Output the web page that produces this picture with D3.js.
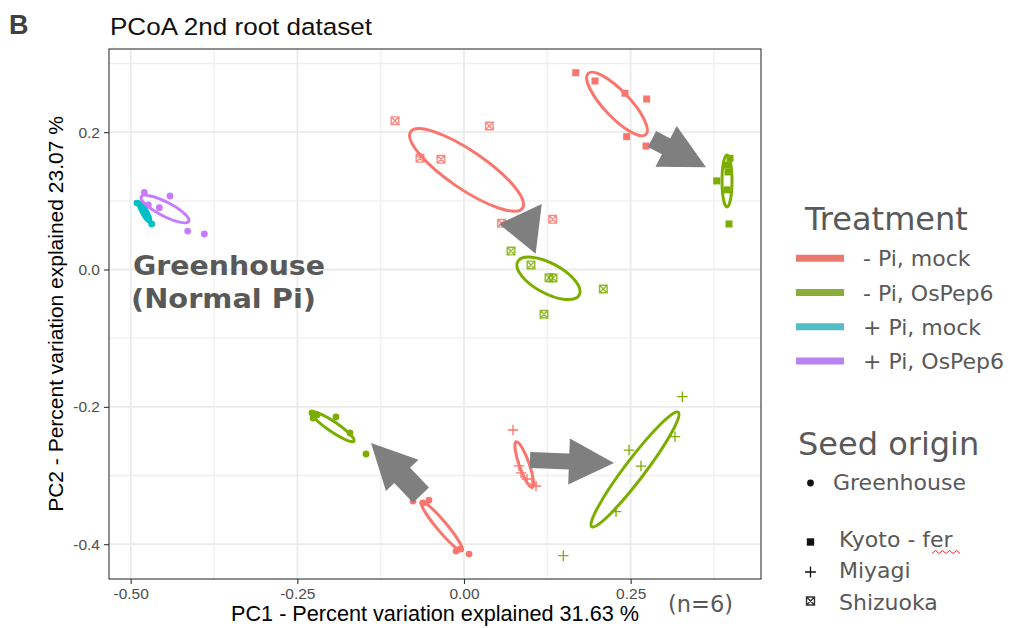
<!DOCTYPE html>
<html>
<head>
<meta charset="utf-8">
<script src="https://cdn.jsdelivr.net/npm/d3@7"></script>
<style>
  body { margin: 0; background: #fff; }
  svg { display: block; }
</style>
</head>
<body>
<svg id="chart" width="1013" height="628"></svg>
<script>
const treatments = ["- Pi, mock", "- Pi, OsPep6", "+ Pi, mock", "+ Pi, OsPep6"];
const origins = ["Greenhouse", "Kyoto - fer", "Miyagi", "Shizuoka"];
const xTicks = [-0.50, -0.25, 0.00, 0.25];
const yTicks = [0.2, 0.0, -0.2, -0.4];
const xMinor = [-0.375, -0.125, 0.125, 0.375];
const yMinor = [0.3, 0.1, -0.1, -0.3];

// sample scores (PC1, PC2), one list per seed origin
const greenhouse = [
  { t: "+ Pi, mock", pc1: -0.4905, pc2: 0.0968 },
  { t: "+ Pi, mock", pc1: -0.4845, pc2: 0.0910 },
  { t: "+ Pi, mock", pc1: -0.4800, pc2: 0.0850 },
  { t: "+ Pi, mock", pc1: -0.4770, pc2: 0.0810 },
  { t: "+ Pi, mock", pc1: -0.4740, pc2: 0.0760 },
  { t: "+ Pi, mock", pc1: -0.4685, pc2: 0.0663 },
  { t: "+ Pi, OsPep6", pc1: -0.4795, pc2: 0.1124 },
  { t: "+ Pi, OsPep6", pc1: -0.4410, pc2: 0.1070 },
  { t: "+ Pi, OsPep6", pc1: -0.4570, pc2: 0.0900 },
  { t: "+ Pi, OsPep6", pc1: -0.4735, pc2: 0.0940 },
  { t: "+ Pi, OsPep6", pc1: -0.4145, pc2: 0.0560 },
  { t: "+ Pi, OsPep6", pc1: -0.3895, pc2: 0.0517 },
  { t: "- Pi, mock", pc1: -0.0765, pc2: -0.3371 },
  { t: "- Pi, mock", pc1: -0.0615, pc2: -0.3400 },
  { t: "- Pi, mock", pc1: -0.0525, pc2: -0.3357 },
  { t: "- Pi, mock", pc1: -0.0120, pc2: -0.4100 },
  { t: "- Pi, mock", pc1: -0.0060, pc2: -0.4071 },
  { t: "- Pi, mock", pc1: 0.0075, pc2: -0.4144 },
  { t: "- Pi, OsPep6", pc1: -0.2280, pc2: -0.2090 },
  { t: "- Pi, OsPep6", pc1: -0.2265, pc2: -0.2163 },
  { t: "- Pi, OsPep6", pc1: -0.2205, pc2: -0.2119 },
  { t: "- Pi, OsPep6", pc1: -0.1920, pc2: -0.2148 },
  { t: "- Pi, OsPep6", pc1: -0.1710, pc2: -0.2381 },
  { t: "- Pi, OsPep6", pc1: -0.1470, pc2: -0.2687 }
];
const kyoto = [
  { t: "- Pi, mock", pc1: 0.1676, pc2: 0.2866 },
  { t: "- Pi, mock", pc1: 0.1965, pc2: 0.2745 },
  { t: "- Pi, mock", pc1: 0.2415, pc2: 0.2566 },
  { t: "- Pi, mock", pc1: 0.2740, pc2: 0.2483 },
  { t: "- Pi, mock", pc1: 0.2440, pc2: 0.1934 },
  { t: "- Pi, mock", pc1: 0.2730, pc2: 0.1798 },
  { t: "- Pi, OsPep6", pc1: 0.3990, pc2: 0.1620 },
  { t: "- Pi, OsPep6", pc1: 0.3790, pc2: 0.1290 },
  { t: "- Pi, OsPep6", pc1: 0.3975, pc2: 0.0663 },
  { t: "- Pi, OsPep6", pc1: 0.3945, pc2: 0.1520 },
  { t: "- Pi, OsPep6", pc1: 0.3960, pc2: 0.1420 },
  { t: "- Pi, OsPep6", pc1: 0.3945, pc2: 0.1160 }
];
const miyagi = [
  { t: "- Pi, mock", pc1: 0.0735, pc2: -0.2337 },
  { t: "- Pi, mock", pc1: 0.0825, pc2: -0.2861 },
  { t: "- Pi, mock", pc1: 0.0855, pc2: -0.2963 },
  { t: "- Pi, mock", pc1: 0.0945, pc2: -0.3051 },
  { t: "- Pi, mock", pc1: 0.1020, pc2: -0.3124 },
  { t: "- Pi, mock", pc1: 0.1080, pc2: -0.3153 },
  { t: "- Pi, OsPep6", pc1: 0.3275, pc2: -0.1852 },
  { t: "- Pi, OsPep6", pc1: 0.3165, pc2: -0.2435 },
  { t: "- Pi, OsPep6", pc1: 0.2475, pc2: -0.2629 },
  { t: "- Pi, OsPep6", pc1: 0.2655, pc2: -0.2862 },
  { t: "- Pi, OsPep6", pc1: 0.2280, pc2: -0.3527 },
  { t: "- Pi, OsPep6", pc1: 0.1490, pc2: -0.4168 }
];
const shizuoka = [
  { t: "- Pi, mock", pc1: -0.1035, pc2: 0.2167 },
  { t: "- Pi, mock", pc1: 0.0380, pc2: 0.2090 },
  { t: "- Pi, mock", pc1: -0.0660, pc2: 0.1619 },
  { t: "- Pi, mock", pc1: -0.0345, pc2: 0.1605 },
  { t: "- Pi, mock", pc1: 0.0565, pc2: 0.0673 },
  { t: "- Pi, mock", pc1: 0.1330, pc2: 0.0731 },
  { t: "- Pi, OsPep6", pc1: 0.0705, pc2: 0.0269 },
  { t: "- Pi, OsPep6", pc1: 0.1005, pc2: 0.0066 },
  { t: "- Pi, OsPep6", pc1: 0.1275, pc2: -0.0119 },
  { t: "- Pi, OsPep6", pc1: 0.1335, pc2: -0.0124 },
  { t: "- Pi, OsPep6", pc1: 0.2090, pc2: -0.0284 },
  { t: "- Pi, OsPep6", pc1: 0.1200, pc2: -0.0652 }
];

// 95% ellipses: centre, end of major axis, minor semi-axis (PC units)
const ellipses = [
  { t: "+ Pi, mock",   cx: -0.4792, cy: 0.0837,  ex: -0.4710, ey: 0.0692,  minor: 0.0045 },
  { t: "+ Pi, OsPep6", cx: -0.4485, cy: 0.0881,  ex: -0.4128, ey: 0.0702,  minor: 0.0105 },
  { t: "- Pi, mock",   cx: 0.2295,  cy: 0.2410,  ex: 0.2728,  ey: 0.1966,  minor: 0.0195 },
  { t: "- Pi, OsPep6", cx: 0.3945,  cy: 0.1289,  ex: 0.3945,  ey: 0.0910,  minor: 0.0075 },
  { t: "- Pi, mock",   cx: 0.0038,  cy: 0.1450,  ex: 0.0877,  ey: 0.0895,  minor: 0.0285 },
  { t: "- Pi, OsPep6", cx: 0.1267,  cy: -0.0128, ex: 0.1729,  ey: -0.0371, minor: 0.0225 },
  { t: "- Pi, OsPep6", cx: -0.1968, cy: -0.2289, ex: -0.1650, ey: -0.2498, minor: 0.0075 },
  { t: "- Pi, mock",   cx: -0.0334, cy: -0.3738, ex: -0.0026, ey: -0.4095, minor: 0.0075 },
  { t: "- Pi, mock",   cx: 0.0903,  cy: -0.2840, ex: 0.1024,  ey: -0.3172, minor: 0.0075 },
  { t: "- Pi, OsPep6", cx: 0.2565,  cy: -0.2912, ex: 0.3215,  ey: -0.2079, minor: 0.0150 }
];

// mock -> OsPep6 arrows (PC units)
const arrows = [
  { from: [0.282, 0.190],     to: [0.363, 0.149] },
  { from: [0.1132, 0.059],    to: [0.0525, 0.0663] },
  { from: [-0.0645, -0.3284], to: [-0.1395, -0.2527] },
  { from: [0.099, -0.2774],   to: [0.225, -0.2818] }
];
const arrowShapes = [
  { shaft: 18, headW: 46, headL: 45 },
  { shaft: 0,  headW: 50, headL: 40 },
  { shaft: 22, headW: 45, headL: 45 },
  { shaft: 16, headW: 46, headL: 45 }
];

const COLORS = ['#F8766D', '#7CAE00', '#00BFC4', '#C77CFF'];
const LEGEND_COLORS = ['#EA786E', '#8AAD37', '#55BDC5', '#B983F2'];
const color = d3.scaleOrdinal().domain(treatments).range(COLORS);

const svg = d3.select('#chart');
const panel = { left: 109, right: 761, top: 49, bottom: 579 };

const x = d3.scaleLinear().domain([-0.5325, 0.4455]).range([panel.left, panel.right]);
const y = d3.scaleLinear().domain([-0.4507, 0.3211]).range([panel.bottom, panel.top]);

svg.append('clipPath').attr('id', 'panelClip')
  .append('rect')
  .attr('x', panel.left).attr('y', panel.top)
  .attr('width', panel.right - panel.left).attr('height', panel.bottom - panel.top);

// grid
const grid = svg.append('g');
grid.selectAll('.vminor').data(xMinor).enter().append('line')
  .attr('x1', d => x(d)).attr('x2', d => x(d))
  .attr('y1', panel.top).attr('y2', panel.bottom)
  .attr('stroke', '#f0f0f0').attr('stroke-width', 1.3);
grid.selectAll('.hminor').data(yMinor).enter().append('line')
  .attr('y1', d => y(d)).attr('y2', d => y(d))
  .attr('x1', panel.left).attr('x2', panel.right)
  .attr('stroke', '#f0f0f0').attr('stroke-width', 1.3);
grid.selectAll('.vmajor').data(xTicks).enter().append('line')
  .attr('x1', d => x(d)).attr('x2', d => x(d))
  .attr('y1', panel.top).attr('y2', panel.bottom)
  .attr('stroke', '#ebebeb').attr('stroke-width', 1.8);
grid.selectAll('.hmajor').data(yTicks).enter().append('line')
  .attr('y1', d => y(d)).attr('y2', d => y(d))
  .attr('x1', panel.left).attr('x2', panel.right)
  .attr('stroke', '#ebebeb').attr('stroke-width', 1.8);

// points
const shapeFor = {
  'Greenhouse': 'circle',
  'Kyoto - fer': 'square',
  'Miyagi': 'plus',
  'Shizuoka': 'boxx'
};

function drawShape(g, shape, cx, cy, col, scale) {
  const k = scale || 1;
  if (shape === 'circle') {
    g.append('circle').attr('cx', cx).attr('cy', cy).attr('r', 3.4 * k).attr('fill', col);
  } else if (shape === 'square') {
    const s = 7 * k;
    g.append('rect').attr('x', cx - s / 2).attr('y', cy - s / 2)
      .attr('width', s).attr('height', s).attr('fill', col);
  } else if (shape === 'plus') {
    const h = 5.2 * k;
    g.append('path')
      .attr('d', `M${cx - h},${cy}H${cx + h}M${cx},${cy - h}V${cy + h}`)
      .attr('stroke', col).attr('stroke-width', 1.3).attr('fill', 'none');
  } else if (shape === 'boxx') {
    const h = 3.8 * k;
    g.append('path')
      .attr('d', `M${cx - h},${cy - h}H${cx + h}V${cy + h}H${cx - h}Z` +
        `M${cx - h},${cy - h}L${cx + h},${cy + h}M${cx + h},${cy - h}L${cx - h},${cy + h}`)
      .attr('stroke', col).attr('stroke-width', 1.4).attr('fill', 'none')
      .attr('opacity', 0.85);
  }
}

const pts = svg.append('g').attr('clip-path', 'url(#panelClip)');
[[greenhouse, 'Greenhouse'], [kyoto, 'Kyoto - fer'], [miyagi, 'Miyagi'], [shizuoka, 'Shizuoka']]
  .forEach(([rows, origin]) => {
    rows.forEach(d => drawShape(pts, shapeFor[origin], x(d.pc1), y(d.pc2), color(d.t)));
  });

// ellipses
const unitPx = x(1) - x(0);
const ell = svg.append('g').attr('clip-path', 'url(#panelClip)');
ell.selectAll('ellipse').data(ellipses).enter().append('ellipse')
  .attr('cx', 0).attr('cy', 0)
  .attr('rx', d => Math.hypot(x(d.ex) - x(d.cx), y(d.ey) - y(d.cy)))
  .attr('ry', d => d.minor * unitPx)
  .attr('transform', d => {
    const ang = Math.atan2(y(d.ey) - y(d.cy), x(d.ex) - x(d.cx)) * 180 / Math.PI;
    return `translate(${x(d.cx)},${y(d.cy)}) rotate(${ang})`;
  })
  .attr('fill', 'none')
  .attr('stroke', d => color(d.t))
  .attr('stroke-width', 3);

// panel border
svg.append('rect')
  .attr('x', panel.left).attr('y', panel.top)
  .attr('width', panel.right - panel.left).attr('height', panel.bottom - panel.top)
  .attr('fill', 'none').attr('stroke', '#333333').attr('stroke-width', 1.1);

// axes
const xAxis = svg.append('g').attr('transform', `translate(0,${panel.bottom})`)
  .call(d3.axisBottom(x).tickValues(xTicks).tickFormat(d3.format('.2f')).tickSize(5).tickPadding(4));
const yAxis = svg.append('g').attr('transform', `translate(${panel.left},0)`)
  .call(d3.axisLeft(y).tickValues(yTicks).tickFormat(d3.format('.1f')).tickSize(5).tickPadding(4));
[xAxis, yAxis].forEach(a => {
  a.select('.domain').remove();
  a.selectAll('.tick line').attr('stroke', '#333333').attr('stroke-width', 1.1);
  a.selectAll('.tick text')
    .attr('fill', '#4d4d4d')
    .style('font-family', '"Liberation Sans", Arial, sans-serif')
    .style('font-size', '15.5px')
    .text(function () { return this.textContent.replace('−', '-'); });
});

svg.append('text')
  .attr('x', (panel.left + panel.right) / 2).attr('y', 621)
  .attr('text-anchor', 'middle')
  .style('font-family', '"Liberation Sans", Arial, sans-serif')
  .style('font-size', '21.5px')
  .attr('fill', '#000')
  .attr('textLength', 408).attr('lengthAdjust', 'spacingAndGlyphs')
  .text('PC1 - Percent variation explained 31.63 %');

svg.append('text')
  .attr('transform', `translate(63,${(panel.top + panel.bottom) / 2}) rotate(-90)`)
  .attr('text-anchor', 'middle')
  .style('font-family', '"Liberation Sans", Arial, sans-serif')
  .style('font-size', '21px')
  .attr('fill', '#000')
  .text('PC2 - Percent variation explained 23.07 %');

svg.append('text')
  .attr('x', 110).attr('y', 35)
  .style('font-family', '"Liberation Sans", Arial, sans-serif')
  .style('font-size', '24.5px')
  .attr('fill', '#111')
  .attr('textLength', 262).attr('lengthAdjust', 'spacingAndGlyphs')
  .text('PCoA 2nd root dataset');

svg.append('text')
  .attr('x', 9).attr('y', 34)
  .style('font-family', '"Liberation Sans", Arial, sans-serif')
  .style('font-size', '27px').style('font-weight', 'bold')
  .attr('fill', '#404040')
  .text('B');

// arrows
const arrowG = svg.append('g');
arrows.forEach((a, i) => {
  const s = arrowShapes[i];
  const fx = x(a.from[0]), fy = y(a.from[1]);
  const tx = x(a.to[0]), ty = y(a.to[1]);
  const L = Math.hypot(tx - fx, ty - fy);
  const ux = (tx - fx) / L, uy = (ty - fy) / L;
  const nx = -uy, ny = ux;
  const bx = tx - ux * s.headL, by = ty - uy * s.headL;
  const p = [
    [fx + nx * s.shaft / 2, fy + ny * s.shaft / 2],
    [bx + nx * s.shaft / 2, by + ny * s.shaft / 2],
    [bx + nx * s.headW / 2, by + ny * s.headW / 2],
    [tx, ty],
    [bx - nx * s.headW / 2, by - ny * s.headW / 2],
    [bx - nx * s.shaft / 2, by - ny * s.shaft / 2],
    [fx - nx * s.shaft / 2, fy - ny * s.shaft / 2]
  ];
  arrowG.append('path')
    .attr('d', 'M' + p.map(q => q.join(',')).join('L') + 'Z')
    .attr('fill', '#7f7f7f');
});

// annotation
const annStyle = t => t
  .style('font-family', '"DejaVu Sans", Verdana, sans-serif')
  .style('font-size', '27px').style('font-weight', 'bold')
  .attr('fill', '#595959');
svg.append('text').call(annStyle)
  .attr('x', 133).attr('y', 275)
  .attr('textLength', 192).attr('lengthAdjust', 'spacingAndGlyphs').text('Greenhouse');
svg.append('text').call(annStyle)
  .attr('x', 131).attr('y', 308)
  .attr('textLength', 185).attr('lengthAdjust', 'spacingAndGlyphs').text('(Normal Pi)');

svg.append('text')
  .attr('x', 668).attr('y', 612)
  .style('font-family', '"DejaVu Sans", Verdana, sans-serif')
  .style('font-size', '22.5px')
  .attr('fill', '#595959')
  .text('(n=6)');

// legend: Treatment
const legFont = '"DejaVu Sans", Verdana, sans-serif';
const leg1 = svg.append('g');
leg1.append('text').attr('x', 805).attr('y', 230)
  .style('font-family', legFont).style('font-size', '32px')
  .attr('fill', '#595959').text('Treatment');
const rows1 = leg1.selectAll('.item').data(treatments).enter().append('g')
  .attr('transform', (d, i) => `translate(0,${258.3 + i * 34.2})`);
rows1.append('line')
  .attr('x1', 796).attr('x2', 844).attr('y1', 0).attr('y2', 0)
  .attr('stroke', (d, i) => LEGEND_COLORS[i]).attr('stroke-width', 7);
rows1.append('text')
  .attr('x', 863).attr('y', 8)
  .style('font-family', legFont).style('font-size', '22px')
  .attr('fill', '#595959')
  .text(d => d);

// legend: Seed origin
const leg2 = svg.append('g');
leg2.append('text').attr('x', 798).attr('y', 455)
  .style('font-family', legFont).style('font-size', '32px')
  .attr('fill', '#595959').text('Seed origin');
const seedRows = [
  { sy: 483, ty: 490, tx: 833 },
  { sy: 542, ty: 547, tx: 839 },
  { sy: 572, ty: 578, tx: 839 },
  { sy: 601, ty: 610, tx: 839 }
];
origins.forEach((o, i) => {
  const r = seedRows[i];
  drawShape(leg2, shapeFor[o], 810.5, r.sy, '#111', i === 0 ? 1 : 1.05);
  leg2.append('text').attr('x', r.tx).attr('y', r.ty)
    .style('font-family', legFont).style('font-size', '22px')
    .attr('fill', '#595959').text(o);
});

// spell-check squiggle under "fer"
const sq = d3.range(0, 9).map(i => [932 + i * 3.5, 552 + (i % 2 ? -1.5 : 1.5)]);
leg2.append('path')
  .attr('d', d3.line()(sq))
  .attr('fill', 'none').attr('stroke', '#ff2020').attr('stroke-width', 1);
</script>
</body>
</html>
